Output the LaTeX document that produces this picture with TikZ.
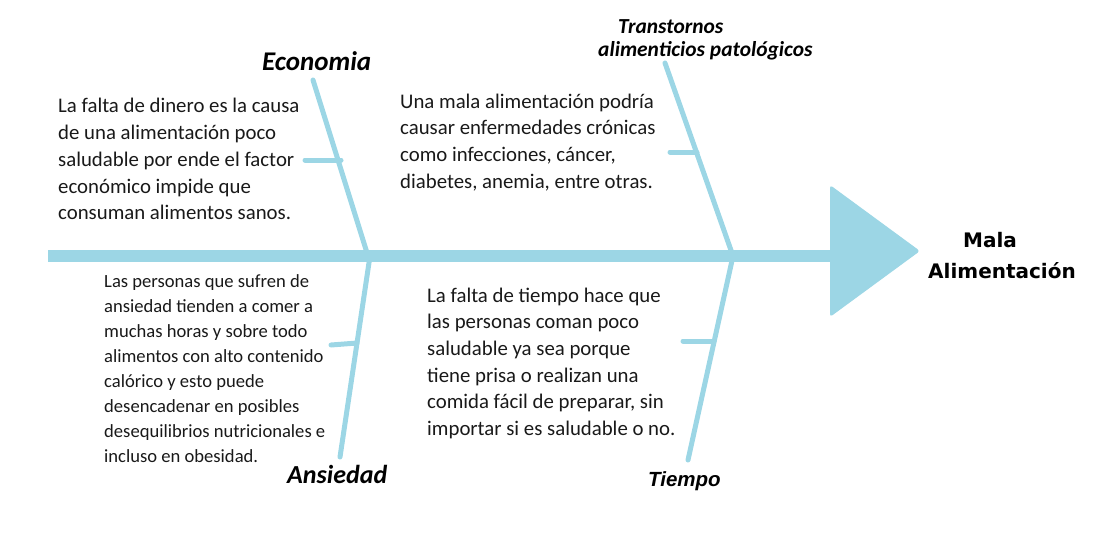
\documentclass[tikz,border=0pt]{standalone}
\usepackage{fontspec}
\setmainfont{Carlito}
\newfontfamily\labfont{Carlito}
\newfontfamily\arialfont{Liberation Sans}
\newfontfamily\verdfont{DejaVu Sans}
\definecolor{bone}{RGB}{156,214,229}
\tikzset{
  spine/.style={draw=bone, line width=12pt},
  bonel/.style={draw=bone, line width=5pt, line cap=round},
  tickl/.style={draw=bone, line width=5pt, line cap=round},
  body/.style={anchor=base west, align=left, inner sep=0pt, text=black!90},
  lab/.style={anchor=base west, inner sep=0pt, font=\labfont\bfseries\itshape},
}
\begin{document}
\begin{tikzpicture}[x=1pt,y=-1pt]
\useasboundingbox (0,0) rectangle (1111,547);
% spine and head
\coordinate (s0) at (48,256);
\coordinate (s1) at (832,256);
\draw[spine] (s0) -- (s1);
\coordinate (h1) at (830,185);
\coordinate (h2) at (920,251);
\coordinate (h3) at (830,317);
\fill[bone, rounded corners=3pt] (h1) -- (h2) -- (h3) -- cycle;
% bones
\coordinate (e0) at (313,80);  \coordinate (e1) at (368,256);
\coordinate (a0) at (370,256); \coordinate (a1) at (340,457);
\coordinate (t0) at (665,63);  \coordinate (t1) at (733,256);
\coordinate (p0) at (733,256); \coordinate (p1) at (688,460);
\draw[bonel] (e0) -- (e1);
\draw[bonel] (a0) -- (a1);
\draw[bonel] (t0) -- (t1);
\draw[bonel] (p0) -- (p1);
% ticks
\coordinate (et0) at (305,160); \coordinate (et1) at (341,160);
\coordinate (at0) at (331,345); \coordinate (at1) at (357,343);
\coordinate (tt0) at (670,152); \coordinate (tt1) at (697,152);
\coordinate (pt0) at (683,341); \coordinate (pt1) at (714,341);
\draw[tickl] (et0) -- (et1);
\draw[tickl] (at0) -- (at1);
\draw[tickl] (tt0) -- (tt1);
\draw[tickl] (pt0) -- (pt1);
% labels
\node[lab, font=\labfont\bfseries\itshape\fontsize{27}{32}\selectfont] (le) at (262,70) {Economia};
\node[lab, font=\labfont\bfseries\itshape\fontsize{21.4}{26}\selectfont] (lt1) at (618,33) {Transtornos};
\node[lab, font=\labfont\bfseries\itshape\fontsize{21.4}{26}\selectfont] (lt2) at (598,56) {alimenticios patológicos};
\node[lab, font=\labfont\bfseries\itshape\fontsize{26}{30}\selectfont] (la) at (287,483) {Ansiedad};
\node[lab, font=\arialfont\bfseries\itshape\fontsize{20.5}{24}\selectfont] (lp) at (648,486) {Tiempo};
\node[lab, font=\verdfont\bfseries\fontsize{20}{24}\selectfont] (m1) at (963,247) {Mala};
\node[lab, font=\verdfont\bfseries\fontsize{20}{24}\selectfont] (m2) at (928,278) {Alimentación};
% body texts (anchor = baseline of last line)
\node[body, font=\fontsize{20.8}{26.8}\selectfont] (te) at (58,219.9) {La falta de dinero es la causa\\de una alimentación poco\\saludable por ende el factor\\económico impide que\\consuman alimentos sanos.};
\node[body, font=\fontsize{20.8}{26.8}\selectfont] (tt) at (400,188.4) {Una mala alimentación podría\\causar enfermedades crónicas\\como infecciones, cáncer,\\diabetes, anemia, entre otras.};
\node[body, font=\fontsize{18.6}{25}\selectfont] (ta) at (104,462) {Las personas que sufren de\\ansiedad tienden a comer a\\muchas horas y sobre todo\\alimentos con alto contenido\\calórico y esto puede\\desencadenar en posibles\\desequilibrios nutricionales e\\incluso en obesidad.};
\node[body, font=\fontsize{20.8}{26.7}\selectfont] (tp) at (427,435.5) {La falta de tiempo hace que\\las personas coman poco\\saludable ya sea porque\\tiene prisa o realizan una\\comida fácil de preparar, sin\\importar si es saludable o no.};
\end{tikzpicture}
\end{document}
